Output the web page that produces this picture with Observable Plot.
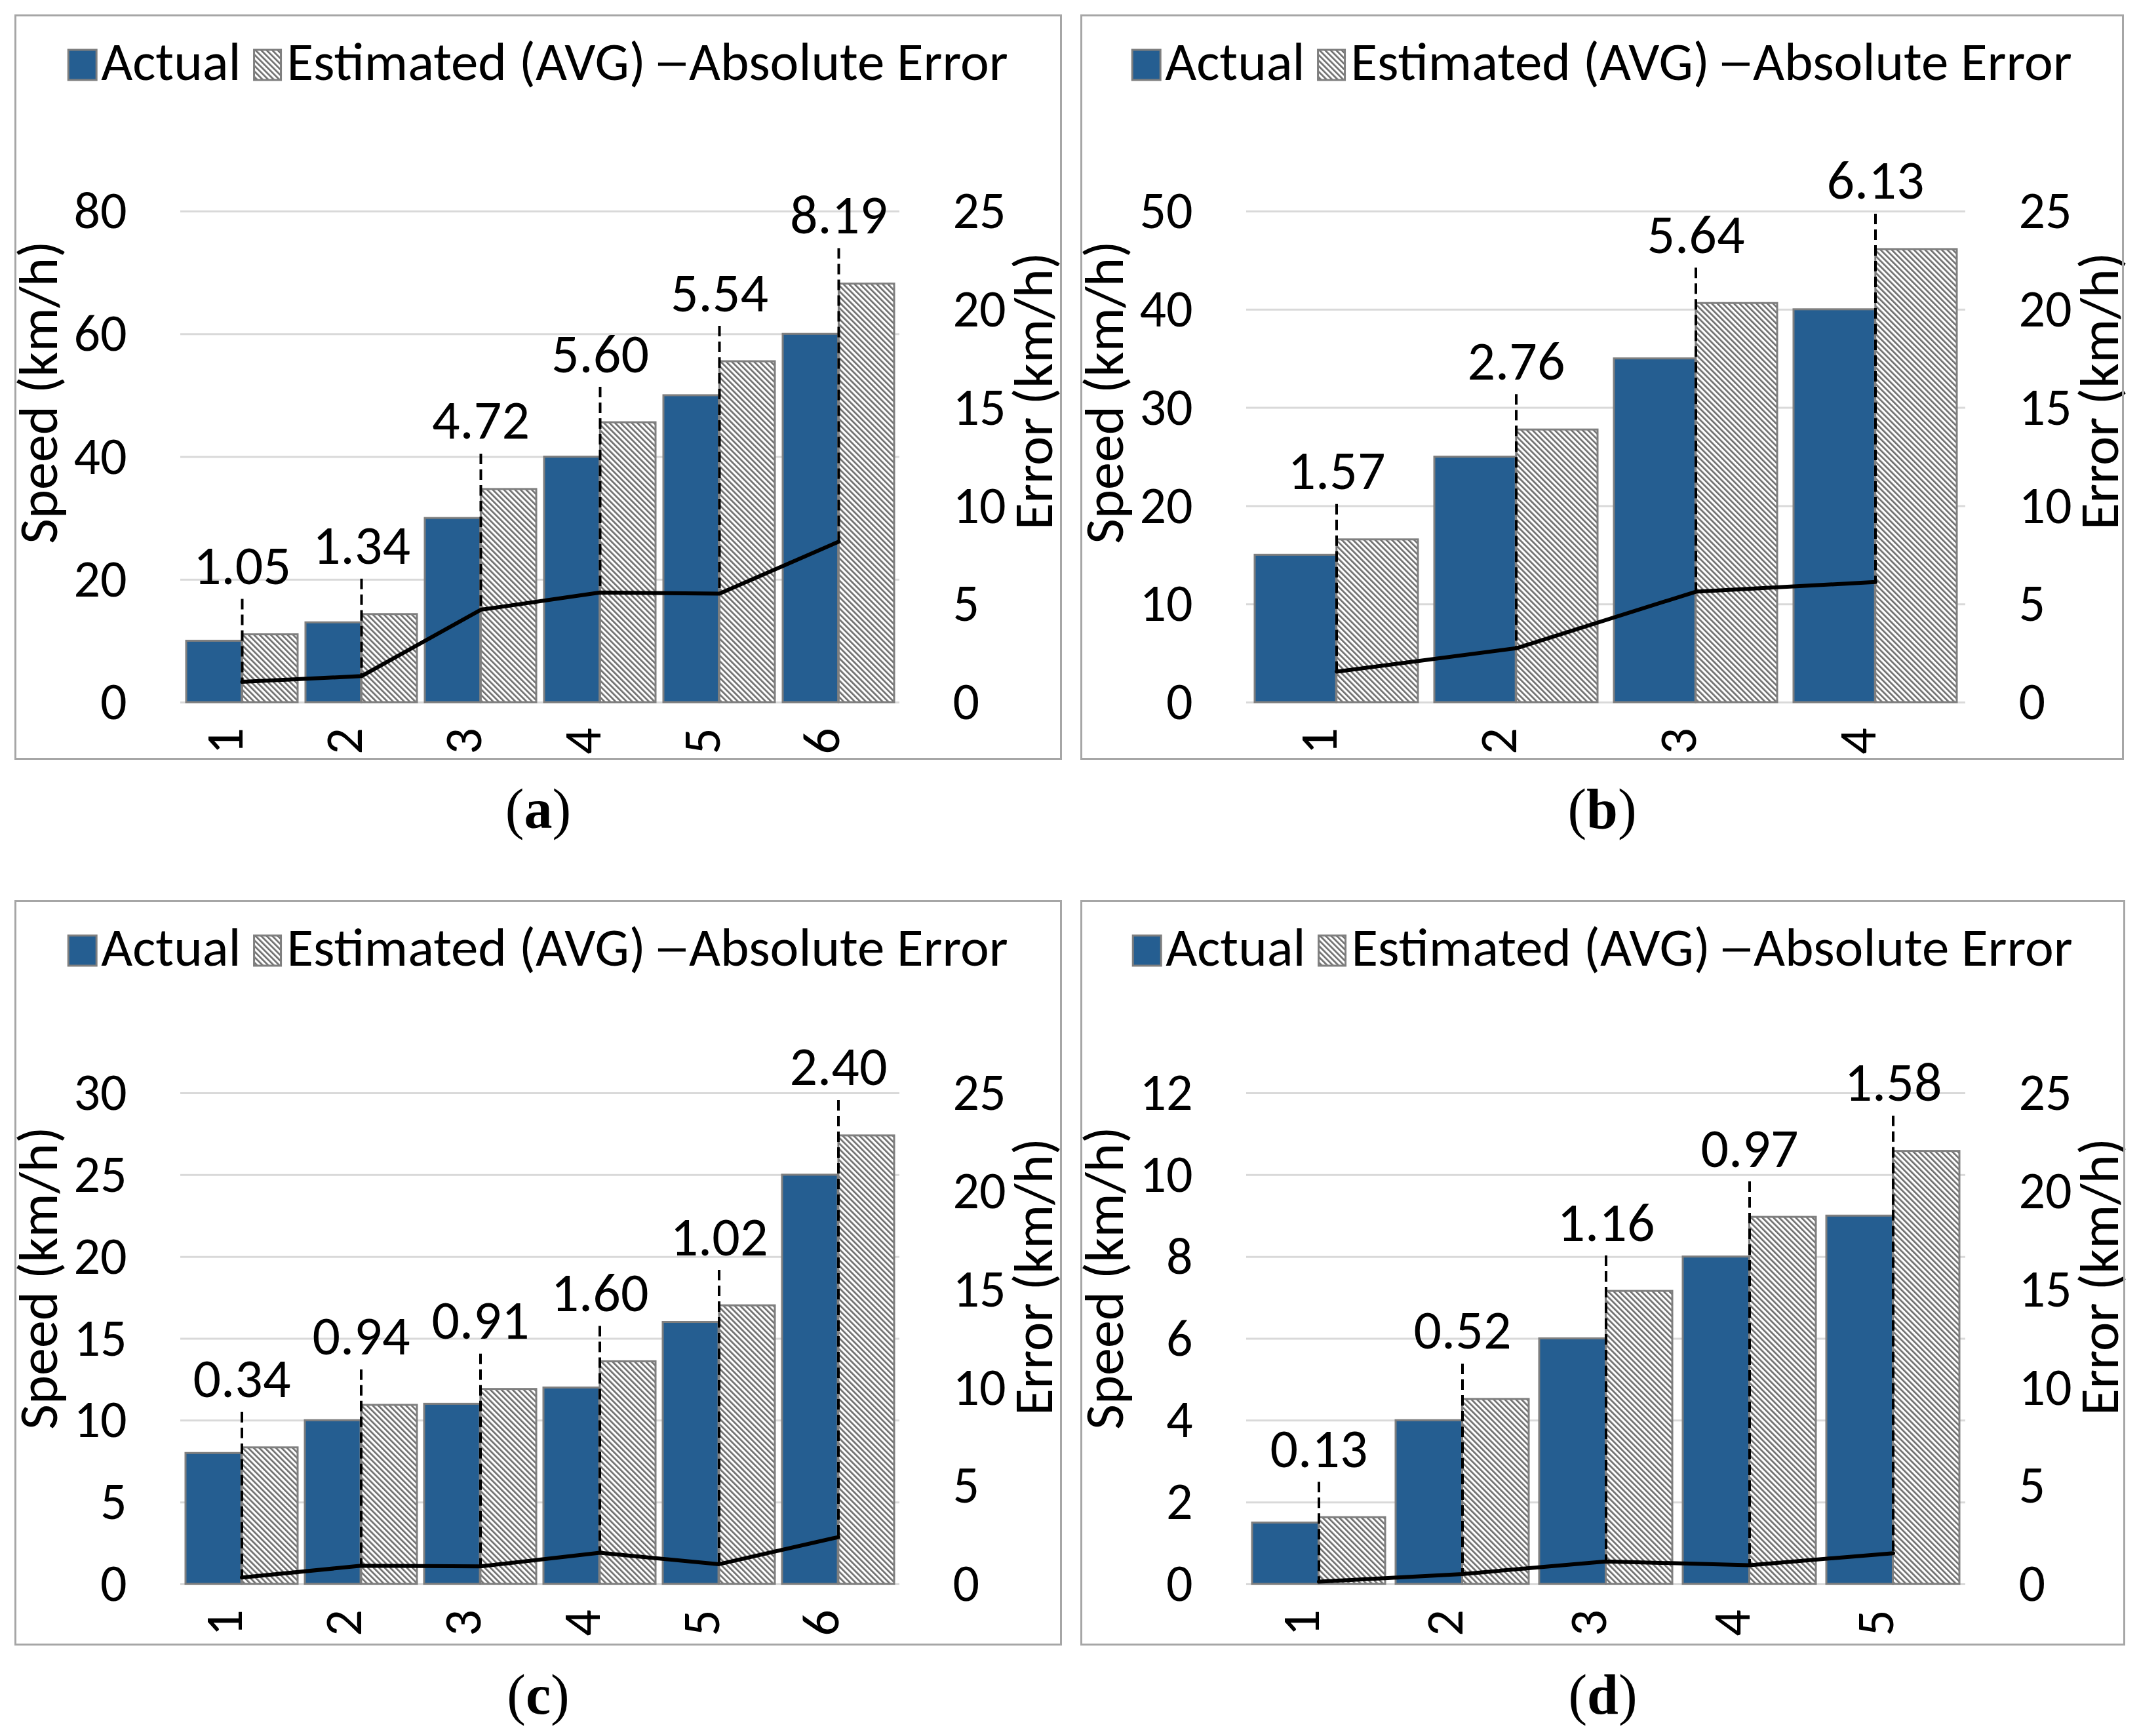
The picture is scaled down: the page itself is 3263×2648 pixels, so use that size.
<!DOCTYPE html>
<html><head><meta charset="utf-8">
<script src="https://cdn.jsdelivr.net/npm/d3@7"></script>
<script src="https://cdn.jsdelivr.net/npm/@observablehq/plot@0.6"></script>
<style>
  html, body { margin: 0; padding: 0; background: #fff; }
  body { width: 3263px; height: 2648px; position: relative; overflow: hidden; font-family: Carlito, "Liberation Sans", sans-serif; }
  .panel { position: absolute; }
  .frame { position: absolute; left: 0; top: 0; right: 0; bottom: 0; border: 3px solid #a6a6a6; box-sizing: border-box; pointer-events: none; }
  .panel svg { position: absolute; left: 0; }
  .cap { position: absolute; }
</style></head>
<body>
<script>
// ---------- data ----------
const catsA = ["1", "2", "3", "4", "5", "6"];
const actualA = [10, 13, 30, 40, 50, 60];
const estimatedA = [11.05, 14.34, 34.72, 45.60, 55.54, 68.19];
const errorA = [1.05, 1.34, 4.72, 5.60, 5.54, 8.19];
const speedTicksA = [0, 20, 40, 60, 80];

const catsB = ["1", "2", "3", "4"];
const actualB = [15, 25, 35, 40];
const estimatedB = [16.57, 27.76, 40.64, 46.13];
const errorB = [1.57, 2.76, 5.64, 6.13];
const speedTicksB = [0, 10, 20, 30, 40, 50];

const catsC = ["1", "2", "3", "4", "5", "6"];
const actualC = [8, 10, 11, 12, 16, 25];
const estimatedC = [8.34, 10.94, 11.91, 13.60, 17.02, 27.40];
const errorC = [0.34, 0.94, 0.91, 1.60, 1.02, 2.40];
const speedTicksC = [0, 5, 10, 15, 20, 25, 30];

const catsD = ["1", "2", "3", "4", "5"];
const actualD = [1.5, 4, 6, 8, 9];
const estimatedD = [1.63, 4.52, 7.16, 8.97, 10.58];
const errorD = [0.13, 0.52, 1.16, 0.97, 1.58];
const speedTicksD = [0, 2, 4, 6, 8, 10, 12];

const errorTicks = [0, 5, 10, 15, 20, 25];
const legendLabels = ["Actual", "Estimated (AVG)", "Absolute Error"];
const speedTitle = "Speed (km/h)";
const errorTitle = "Error (km/h)";
const panelLetters = ["a", "b", "c", "d"];

// ---------- style / layout ----------
const BLUE = "#255e91";
const OUTLINE = "#7f7f7f";
const HATCH = "#6e6e6e";
const GRID = "#d9d9d9";
const FONT = "Carlito";
const PANEL_H = 1137;
const LEGEND_H = 150;
const PLOT_H = PANEL_H - LEGEND_H;
const M_LEFT = 253, FRAME_RIGHT = 1350, FRAME_H = 749;

const panels = [
  {letter: panelLetters[0], cats: catsA, actual: actualA, est: estimatedA, err: errorA, ticks: speedTicksA, left: 22, top: 22, w: 1598, gap: 0.066, mTop: 150},
  {letter: panelLetters[1], cats: catsB, actual: actualB, est: estimatedB, err: errorB, ticks: speedTicksB, left: 1648, top: 22, w: 1592, gap: 0.09, mTop: 150},
  {letter: panelLetters[2], cats: catsC, actual: actualC, est: estimatedC, err: errorC, ticks: speedTicksC, left: 22, top: 1373, w: 1598, gap: 0.06, mTop: 144},
  {letter: panelLetters[3], cats: catsD, actual: actualD, est: estimatedD, err: errorD, ticks: speedTicksD, left: 1648, top: 1373, w: 1594, gap: 0.075, mTop: 144}
];

function addHatch(defs, id) {
  const p = defs.append("pattern").attr("id", id)
    .attr("patternUnits", "userSpaceOnUse").attr("width", 6).attr("height", 6)
    .attr("patternTransform", "rotate(-45)");
  p.append("rect").attr("width", 6).attr("height", 6).attr("fill", "white");
  p.append("rect").attr("width", 2.7).attr("height", 6).attr("fill", HATCH);
}

function drawLegend(container, w, letter) {
  const svg = d3.select(container).append("svg")
    .attr("width", w).attr("height", LEGEND_H).style("top", "0px");
  addHatch(svg.append("defs"), "hatch-leg-" + letter);
  const g = svg.append("g").attr("font-family", FONT).attr("font-size", 83).attr("fill", "black");
  const base = 100;
  let x = 0;
  g.append("rect").attr("x", x).attr("y", base - 46).attr("width", 43).attr("height", 46)
    .attr("fill", BLUE).attr("stroke", OUTLINE).attr("stroke-width", 3);
  x += 43 + 7;
  let t = g.append("text").attr("x", x).attr("y", base).text(legendLabels[0]);
  x += t.node().getComputedTextLength() + 20;
  g.append("rect").attr("x", x).attr("y", base - 46).attr("width", 41).attr("height", 46)
    .attr("fill", `url(#hatch-leg-${letter})`).attr("stroke", OUTLINE).attr("stroke-width", 3);
  x += 41 + 9;
  t = g.append("text").attr("x", x).attr("y", base).text(legendLabels[1]);
  x += t.node().getComputedTextLength() + 19;
  g.append("line").attr("x1", x).attr("x2", x + 42).attr("y1", base - 24).attr("y2", base - 24)
    .attr("stroke", "black").attr("stroke-width", 5);
  x += 42 + 5;
  t = g.append("text").attr("x", x).attr("y", base).text(legendLabels[2]);
  x += t.node().getComputedTextLength();
  g.attr("transform", `translate(${(w - x) / 2},0)`);
}

function drawPanel(cfg) {
  const {letter, cats, actual, est, err, ticks, left, top, w, gap, mTop} = cfg;
  const yMax = ticks[ticks.length - 1];
  const k = yMax / 25;
  const rows = cats.map((c, i) => ({cat: c, actual: actual[i], est: est[i], err: err[i]}));
  const mR = w - FRAME_RIGHT;
  const mB = PLOT_H - mTop - FRAME_H;
  const plotW = w - M_LEFT - mR;
  const pi = gap, po = gap / 2;
  const step = plotW / (cats.length - pi + 2 * po);
  const bw = step * (1 - pi);
  const hatchId = "hatch-" + letter;
  const fmt = d3.format(".2f");
  const midY = mTop + FRAME_H / 2;

  const container = document.createElement("div");
  container.className = "panel";
  container.style.left = left + "px";
  container.style.top = top + "px";
  container.style.width = w + "px";
  container.style.height = PANEL_H + "px";
  document.body.appendChild(container);

  drawLegend(container, w, letter);

  const defsMark = () => {
    const defs = d3.create("svg:defs");
    addHatch(defs, hatchId);
    return defs.node();
  };

  const chart = Plot.plot({
    width: w, height: PLOT_H,
    marginLeft: M_LEFT, marginRight: mR, marginTop: mTop, marginBottom: mB,
    x: {type: "band", domain: cats, paddingInner: pi, paddingOuter: po, axis: null},
    y: {domain: [0, yMax]},
    style: {fontFamily: FONT, fontSize: "80px", color: "black", background: "transparent", overflow: "visible"},
    marks: [
      defsMark,
      Plot.ruleY(ticks, {stroke: GRID, strokeWidth: 3}),
      Plot.barY(rows, {x: "cat", y: "actual", fill: BLUE, stroke: OUTLINE, strokeWidth: 3, insetRight: bw / 2}),
      Plot.barY(rows, {x: "cat", y: "est", fill: `url(#${hatchId})`, stroke: OUTLINE, strokeWidth: 3, insetLeft: bw / 2}),
      Plot.line(rows, {x: "cat", y: (d) => d.err * k, stroke: "black", strokeWidth: 6}),
      Plot.ruleX(rows, {x: "cat", y1: "est", y2: (d) => d.err * k, insetTop: -54, stroke: "black", strokeWidth: 4, strokeDasharray: "16,8"}),
      Plot.text(rows, {x: "cat", y: "est", text: (d) => fmt(d.err), dy: -77, lineAnchor: "bottom", fill: "black", fontSize: 84}),
      Plot.axisY({anchor: "left", ticks, tickSize: 0, tickPadding: 82, label: null}),
      Plot.axisY({anchor: "right", ticks: errorTicks.map((e) => e * k), tickFormat: (v) => String(Math.round(v / k)), tickSize: 0, tickPadding: 81, label: null}),
      Plot.text(cats, {x: (d) => d, text: (d) => d, frameAnchor: "bottom", rotate: -90, dy: 59, textAnchor: "middle", fill: "black"}),
      Plot.text([speedTitle], {frameAnchor: "left", text: (d) => d, rotate: -90, dx: 64 - M_LEFT, dy: 426 - midY, lineAnchor: "bottom", textAnchor: "middle", fill: "black", fontSize: 84}),
      Plot.text([errorTitle], {frameAnchor: "right", text: (d) => d, rotate: -90, dx: 232, dy: 424 - midY, lineAnchor: "bottom", textAnchor: "middle", fill: "black", fontSize: 84})
    ]
  });
  chart.style.position = "absolute";
  chart.style.top = LEGEND_H + "px";
  chart.style.left = "0px";
  container.appendChild(chart);

  const frame = document.createElement("div");
  frame.className = "frame";
  container.appendChild(frame);

  // caption
  const cap = d3.select(document.body).append("svg").attr("class", "cap")
    .style("left", left + "px").style("top", (top + PANEL_H) + "px")
    .attr("width", w).attr("height", 160);
  const ct = cap.append("text").attr("x", w / 2).attr("y", 104).attr("text-anchor", "middle")
    .attr("font-family", "Liberation Serif").attr("font-size", 86).attr("fill", "black");
  ct.append("tspan").text("(");
  ct.append("tspan").attr("font-weight", "bold").text(letter);
  ct.append("tspan").text(")");
}

panels.forEach(drawPanel);
</script>
</body></html>
